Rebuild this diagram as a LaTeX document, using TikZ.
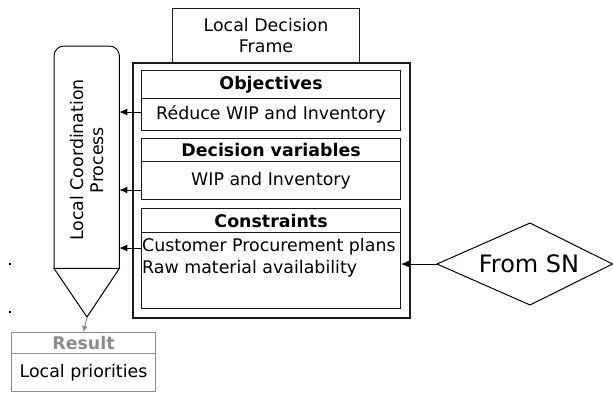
\documentclass[tikz,border=0pt]{standalone}
\usepackage{fontspec}
\setmainfont{DejaVu Sans}
\usetikzlibrary{shapes.geometric,arrows.meta,calc}
\tikzset{
  txt/.style={font=\fontsize{17.4}{20.5}\selectfont},
  boxc/.style={draw=black!90, line width=1.1pt, txt, inner sep=0pt, anchor=north west},
  arr/.style={-{Latex[length=8pt,width=7pt]}, line width=0.9pt},
  grayarr/.style={-{Latex[length=6pt,width=6pt]}, line width=1pt, draw=black!45, color=black!45},
  graybox/.style={draw=black!45, line width=1pt, txt, inner sep=0pt, anchor=north west},
}
\begin{document}
\begin{tikzpicture}[x=1pt,y=-1pt]
\useasboundingbox (0,0) rectangle (613,392);
% dots
\fill (9,263) rectangle (11,265);
\fill (9,311) rectangle (11,313);
% Local decision frame
\node[boxc,minimum width=187pt,minimum height=54pt,align=center] (ldf) at (172,8) {Local Decision\\Frame};
% outer frame
\node[draw=black!90,line width=1.6pt,minimum width=277pt,minimum height=255pt,inner sep=0pt,anchor=north west] (frame) at (132,62) {};
% objectives
\node[boxc,minimum width=259pt,minimum height=28pt,font=\fontsize{17.4}{20.5}\selectfont\bfseries] (objh) at (141,70) {Objectives};
\node[boxc,minimum width=259pt,minimum height=32pt] (objb) at (141,98) {Réduce WIP and Inventory};
% decision variables
\node[boxc,minimum width=259pt,minimum height=23pt,font=\fontsize{17.4}{20.5}\selectfont\bfseries] (dvh) at (141,138) {Decision variables};
\node[boxc,minimum width=259pt,minimum height=38pt] (dvb) at (141,161) {WIP and Inventory};
% constraints
\node[boxc,minimum width=259pt,minimum height=24pt,font=\fontsize{17.4}{20.5}\selectfont\bfseries] (conh) at (141,208) {Constraints};
\node[boxc,minimum width=259pt,minimum height=76pt] (conb) at (141,232) {};
\node[txt,anchor=north west,align=left,inner sep=0pt,font=\fontsize{17.4}{22}\selectfont] (context) at (142,238) {Customer Procurement plans\\Raw material availability};
% local coordination process
\node[minimum width=65pt,minimum height=222pt,inner sep=0pt,anchor=north west] (lcp) at (54,46) {};
\node[txt,rotate=90,align=center] (lcptext) at (87,160) {Local Coordination\\Process};
\draw[line width=1pt,rounded corners=10pt] (lcp.south west) -- (lcp.north west) -- (lcp.north east) -- (lcp.south east);
\coordinate (tip) at (87,317);
\draw[line width=1pt,line join=miter] (lcp.south east) -- (lcp.south west) -- (tip) -- cycle;
% result
\node[graybox,minimum width=144pt,minimum height=21pt,font=\fontsize{17.4}{20.5}\selectfont\bfseries,text=black!45] (resh) at (11,332) {Result};
\node[graybox,minimum width=144pt,minimum height=38pt] (resb) at (11,353) {Local priorities};
\draw[grayarr] (tip) -- (resh.north);
% From SN
\node[inner sep=0pt,font=\fontsize{24}{28}\selectfont] (sn) at (529,264) {From SN};
\coordinate (snw) at (437,264);
\coordinate (snn) at (530,223);
\coordinate (sne) at (612.5,264);
\coordinate (sns) at (530,305);
\draw[line width=1pt] (snw) -- (snn) -- (sne) -- (sns) -- cycle;
% arrows
\coordinate (a1) at (141,112);
\coordinate (a2) at (141,190);
\coordinate (a3) at (141,248);
\draw[arr] (a1) -- (a1 -| lcp.east);
\draw[arr] (a2) -- (a2 -| lcp.east);
\draw[arr] (a3) -- (a3 -| lcp.east);
\draw[arr] (snw) -- (snw -| conb.east);
\end{tikzpicture}
\end{document}
